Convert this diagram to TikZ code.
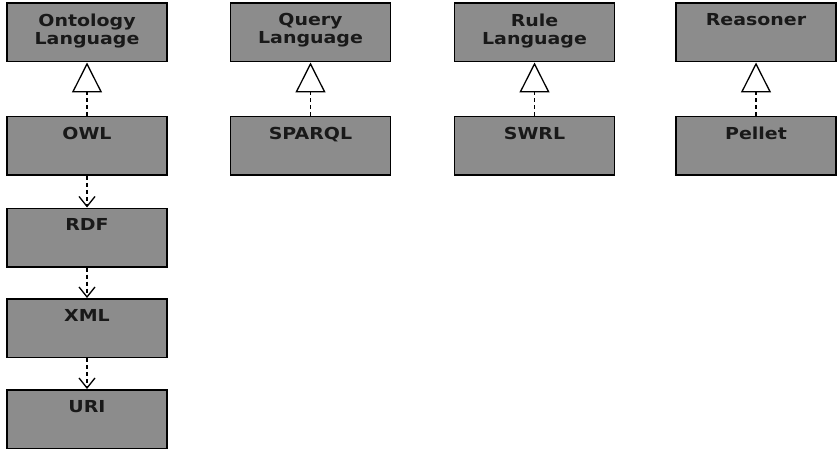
\documentclass[tikz,border=0pt]{standalone}
\usepackage{fontspec}
\usetikzlibrary{arrows.meta}
\newfontfamily\labfont[FakeStretch=1.15]{DejaVu Sans}
\definecolor{boxgray}{RGB}{140,140,140}
\definecolor{txt}{RGB}{25,25,25}
\begin{document}
\begin{tikzpicture}[x=1pt,y=-1pt,
  box/.style={draw=black, line width=1.5pt, fill=boxgray, minimum width=160pt, minimum height=58.5pt, inner sep=0pt},
  lab/.style={anchor=north, yshift=-11pt, inner sep=0pt, align=center, text=txt,
    font=\labfont\bfseries\fontsize{16.5}{18}\selectfont},
  real/.style={line width=1.6pt, dash pattern=on 4pt off 3pt, -{Triangle[open, length=30pt, width=30pt, line width=1.3pt]}},
  dep/.style={line width=1.6pt, dash pattern=on 4pt off 3pt, -{Straight Barb[length=10pt, width=16pt, line width=1.3pt]}}]
\fill[white] (0,0) rectangle (840,449);
\useasboundingbox (0,0) rectangle (840,449);
% column 1
\node[box, label={[lab]north:Ontology\\Language}] (ont) at (87,32.5) {};
\node[box, label={[lab]north:OWL}] (owl) at (87,146) {};
\node[box, label={[lab]north:RDF}] (rdf) at (87,237.5) {};
\node[box, label={[lab]north:XML}] (xml) at (87,328) {};
\node[box, label={[lab]north:URI}] (uri) at (87,419) {};
% column 2
\node[box, label={[lab]north:Query\\Language}] (query) at (310.5,32.5) {};
\node[box, label={[lab]north:SPARQL}] (sparql) at (310.5,146) {};
% column 3
\node[box, label={[lab]north:Rule\\Language}] (rule) at (534.5,32.5) {};
\node[box, label={[lab]north:SWRL}] (swrl) at (534.5,146) {};
% column 4
\node[box, label={[lab]north:Reasoner}] (reas) at (756,32.5) {};
\node[box, label={[lab]north:Pellet}] (pellet) at (756,146) {};
% realizations
\draw[real] (owl.north) -- (ont.south);
\draw[real] (sparql.north) -- (query.south);
\draw[real] (swrl.north) -- (rule.south);
\draw[real] (pellet.north) -- (reas.south);
% dependencies
\draw[dep] (owl.south) -- (rdf.north);
\draw[dep] (rdf.south) -- (xml.north);
\draw[dep] (xml.south) -- (uri.north);
\end{tikzpicture}
\end{document}
